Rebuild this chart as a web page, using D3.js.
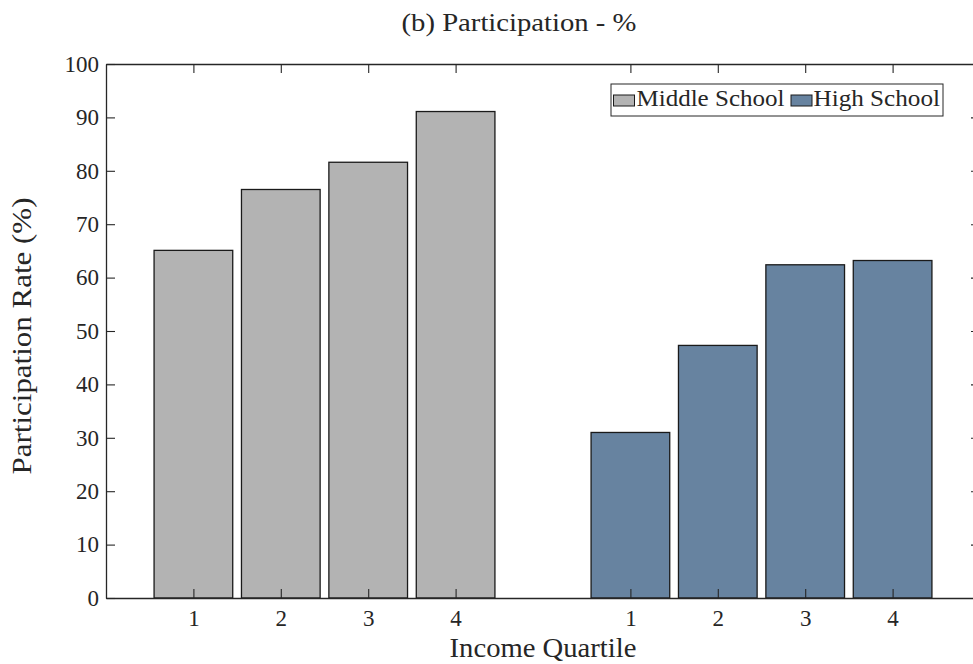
<!DOCTYPE html>
<html>
<head>
<meta charset="utf-8">
<script src="https://cdn.jsdelivr.net/npm/d3@7"></script>
<style>
  html, body { margin: 0; padding: 0; background: #fff; }
  svg { display: block; }
</style>
</head>
<body>
<script>
// Participation rate by income quartile, two school levels
const quartiles = ["1", "2", "3", "4"];
const middleSchool = [65.1, 76.5, 81.6, 91.1];
const highSchool = [31.0, 47.3, 62.4, 63.2];
const yTicks = [0, 10, 20, 30, 40, 50, 60, 70, 80, 90, 100];
const seriesNames = ["Middle School", "High School"];
const seriesColors = ["#b3b3b3", "#6783a0"];

const W = 973, H = 664;
const plot = { left: 106, right: 980, top: 64, bottom: 598 };
const axisColor = "#262626";
const serif = '"Liberation Serif", "Times New Roman", serif';

const svg = d3.select("body").append("svg")
  .attr("width", W).attr("height", H);

// Bars sit at slots 1-4 (middle school) and 6-9 (high school)
const x = d3.scaleLinear().domain([0, 10]).range([plot.left, plot.right]);
const y = d3.scaleLinear().domain([0, 100]).range([plot.bottom, plot.top]);
const barW = 0.9;

const bars = [];
quartiles.forEach((q, i) => {
  bars.push({ series: 0, slot: i + 1, label: q, value: middleSchool[i] });
  bars.push({ series: 1, slot: i + 6, label: q, value: highSchool[i] });
});

svg.append("g").selectAll("rect").data(bars).join("rect")
  .attr("x", d => x(d.slot - barW / 2))
  .attr("width", d => x(d.slot + barW / 2) - x(d.slot - barW / 2))
  .attr("y", d => y(d.value))
  .attr("height", d => y(0) - y(d.value))
  .attr("fill", d => seriesColors[d.series])
  .attr("stroke", "#1a1a1a")
  .attr("stroke-width", 1.3);

// Axes box with inward ticks
const slotTicks = bars.map(d => d.slot).sort((a, b) => a - b);
const slotLabel = s => quartiles[(s <= 4 ? s : s - 5) - 1];

function styleAxis(g) {
  g.attr("font-family", serif).attr("font-size", 23);
  g.selectAll(".domain").attr("stroke", axisColor).attr("stroke-width", 1.3);
  g.selectAll(".tick line").attr("stroke", axisColor).attr("stroke-width", 1.1);
  g.selectAll(".tick text").attr("fill", axisColor)
    .style("font-family", serif).style("font-size", "23px");
}

svg.append("g").attr("transform", `translate(0,${plot.bottom})`)
  .call(d3.axisBottom(x).tickValues(slotTicks).tickFormat(slotLabel)
    .tickSize(-9).tickSizeOuter(0).tickPadding(12))
  .call(styleAxis);

svg.append("g").attr("transform", `translate(0,${plot.top})`)
  .call(d3.axisTop(x).tickValues(slotTicks).tickFormat("")
    .tickSize(-9).tickSizeOuter(0))
  .call(styleAxis);

svg.append("g").attr("transform", `translate(${plot.left},0)`)
  .call(d3.axisLeft(y).tickValues(yTicks).tickFormat(d3.format("d"))
    .tickSize(-9).tickSizeOuter(0).tickPadding(7))
  .call(styleAxis);

svg.append("g").attr("transform", `translate(${plot.right},0)`)
  .call(d3.axisRight(y).tickValues(yTicks).tickFormat("")
    .tickSize(-9).tickSizeOuter(0))
  .call(styleAxis);

// Text helper: serif label placed at (x, y), widened horizontally to a set width
function label(parent, txt, size, width, px, py, anchor, angle) {
  const g = parent.append("g");
  const t = g.append("text")
    .style("font-family", serif)
    .style("font-size", size + "px")
    .attr("fill", axisColor)
    .attr("text-anchor", anchor)
    .text(txt);
  const sx = width / t.node().getComputedTextLength();
  g.attr("transform", `translate(${px},${py}) rotate(${angle || 0}) scale(${sx},1)`);
  return t;
}

// Title and axis labels
label(svg, "(b) Participation - %", 26, 235, 519, 31, "middle");
label(svg, "Income Quartile", 27, 187, (plot.left + plot.right) / 2, 657, "middle");
label(svg, "Participation Rate (%)", 27, 277, 31, (plot.top + plot.bottom) / 2 + 5, "middle", -90);

// Legend
const legend = svg.append("g");
legend.append("rect")
  .attr("x", 611).attr("y", 84).attr("width", 332).attr("height", 32)
  .attr("fill", "#fff").attr("stroke", axisColor).attr("stroke-width", 1);

const legendItems = [
  { name: seriesNames[0], color: seriesColors[0], sx: 613.5, tx: 636.5, tw: 148 },
  { name: seriesNames[1], color: seriesColors[1], sx: 791, tx: 813.5, tw: 126.5 }
];
legendItems.forEach(d => {
  legend.append("rect")
    .attr("x", d.sx).attr("y", 95).attr("width", 21).attr("height", 11)
    .attr("fill", d.color).attr("stroke", "#1a1a1a").attr("stroke-width", 1);
  label(legend, d.name, 24, d.tw, d.tx, 106, "start");
});
</script>
</body>
</html>
